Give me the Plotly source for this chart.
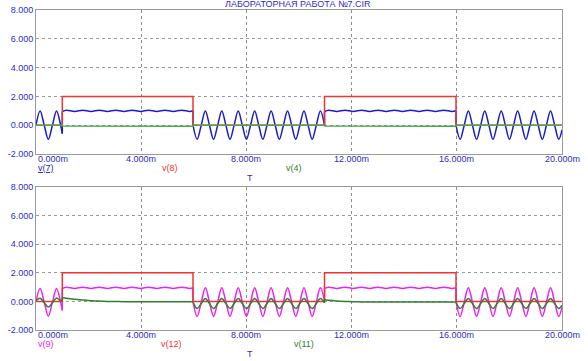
import plotly.graph_objects as go

# ---------------- data (time in ms, voltage in V) ----------------
# switching instants of the pulse sources
SW_T = [0.0, 1.0, 1.0, 5.97, 5.97, 10.97, 10.97, 15.97, 15.97, 20.0]
PULSE = [0.0, 0.0, 2.0, 2.0, 0.0, 0.0, 2.0, 2.0, 0.0, 0.0]

# sample times of the sinusoidal (low) segments
T_A = [0.000, 0.156, 0.313, 0.469, 0.625, 0.781, 0.938, 1.000]
T_C = [5.970, 6.126, 6.283, 6.439, 6.595, 6.751, 6.908, 7.064, 7.220, 7.376, 7.533,
       7.689, 7.845, 8.001, 8.158, 8.314, 8.470, 8.626, 8.783, 8.939, 9.095, 9.251,
       9.408, 9.564, 9.720, 9.876, 10.033, 10.189, 10.345, 10.501, 10.658, 10.814, 10.970]
T_E = [15.970, 16.126, 16.283, 16.439, 16.595, 16.751, 16.908, 17.064, 17.220, 17.376,
       17.533, 17.689, 17.845, 18.001, 18.158, 18.314, 18.470, 18.626, 18.783, 18.939,
       19.095, 19.251, 19.408, 19.564, 19.720, 19.876, 20.000]
# sample times of the (high) segments
T_B = [1.000, 1.156, 1.469, 1.781, 2.094, 2.406, 2.719, 3.031, 3.344, 3.656, 3.969,
       4.281, 4.594, 4.906, 5.219, 5.531, 5.844, 5.970]
T_D = [10.970, 11.126, 11.439, 11.751, 12.064, 12.376, 12.689, 13.001, 13.314, 13.626,
       13.939, 14.251, 14.564, 14.876, 15.189, 15.501, 15.814, 15.970]

# v(7) – top, blue
V7_A = [0.0, 0.98, 0.0, -0.98, 0.0, 0.98, 0.0, -0.58]
V7_B = [0.95, 1.04, 0.96, 1.04, 0.96, 1.04, 0.96, 1.04, 0.96, 1.04, 0.96, 1.04, 0.96,
        1.04, 0.96, 1.04, 0.96, 1.0]
V7_C = [0.0, -0.98, 0.0, 0.98, 0.0, -0.98, 0.0, 0.98, 0.0, -0.98, 0.0, 0.98, 0.0, -0.98,
        0.0, 0.98, 0.0, -0.98, 0.0, 0.98, 0.0, -0.98, 0.0, 0.98, 0.0, -0.98, 0.0, 0.98,
        0.0, -0.98, 0.0, 0.98, 0.0]
V7_D = [0.95, 1.04, 0.96, 1.04, 0.96, 1.04, 0.96, 1.04, 0.96, 1.04, 0.96, 1.04, 0.96,
        1.04, 0.96, 1.04, 0.96, 1.0]
V7_E = [0.0, -0.98, 0.0, 0.98, 0.0, -0.98, 0.0, 0.98, 0.0, -0.98, 0.0, 0.98, 0.0, -0.98,
        0.0, 0.98, 0.0, -0.98, 0.0, 0.98, 0.0, -0.98, 0.0, 0.98, 0.0, -0.98, -0.32]

# v(4) – top, green
V4 = [0.0, 0.0, -0.05, -0.07, 0.0, 0.0, -0.05, -0.07, 0.0, 0.0]

# v(9) – bottom, magenta
V9_A = [0.0, 0.9, -0.05, -1.03, -0.05, 0.9, -0.05, -0.63]
V9_B = [0.9, 0.99, 0.91, 0.99, 0.91, 0.99, 0.91, 0.99, 0.91, 0.99, 0.91, 0.99, 0.91,
        0.99, 0.91, 0.99, 0.91, 0.95]
V9_C = [0.0, -1.05, -0.05, 0.95, -0.05, -1.05, -0.05, 0.95, -0.05, -1.05, -0.05, 0.95,
        -0.05, -1.05, -0.05, 0.95, -0.05, -1.05, -0.05, 0.95, -0.05, -1.05, -0.05, 0.95,
        -0.05, -1.05, -0.05, 0.95, -0.05, -1.05, -0.05, 0.95, 0.05]
V9_D = [0.9, 0.99, 0.91, 0.99, 0.91, 0.99, 0.91, 0.99, 0.91, 0.99, 0.91, 0.99, 0.91,
        0.99, 0.91, 0.99, 0.91, 0.95]
V9_E = [0.0, -1.05, -0.05, 0.95, -0.05, -1.05, -0.05, 0.95, -0.05, -1.05, -0.05, 0.95,
        -0.05, -1.05, -0.05, 0.95, -0.05, -1.05, -0.05, 0.95, -0.05, -1.05, -0.05, 0.95,
        -0.05, -1.05, -0.4]

# v(11) – bottom, green
V11_A = [0.05, 0.22, -0.1, -0.4, -0.1, 0.24, 0.05, 0.15]
V11_B = [0.25, 0.22, 0.15, 0.09, 0.05, 0.02, 0.0, -0.01, -0.02, -0.02, -0.03, -0.03,
         -0.03, -0.03, -0.03, -0.03, -0.03, -0.03]
V11_C = [-0.05, -0.5, -0.15, 0.2, -0.15, -0.5, -0.15, 0.2, -0.15, -0.5, -0.15, 0.2,
         -0.15, -0.5, -0.15, 0.2, -0.15, -0.5, -0.15, 0.2, -0.15, -0.5, -0.15, 0.2,
         -0.15, -0.5, -0.15, 0.2, -0.15, -0.5, -0.15, 0.2, -0.1]
V11_D = [0.12, 0.08, 0.03, 0.0, -0.02, -0.04, -0.05, -0.05, -0.05, -0.05, -0.05, -0.05,
         -0.05, -0.05, -0.05, -0.05, -0.05, -0.05]
V11_E = [-0.05, -0.5, -0.15, 0.2, -0.15, -0.5, -0.15, 0.2, -0.15, -0.5, -0.15, 0.2,
         -0.15, -0.5, -0.15, 0.2, -0.15, -0.5, -0.15, 0.2, -0.15, -0.5, -0.15, 0.2,
         -0.15, -0.5, -0.26]

X_TICKS = [0, 4, 8, 12, 16, 20]
X_TICK_TEXT = ["0.000m", "4.000m", "8.000m", "12.000m", "16.000m", "20.000m"]
Y_TICKS = [-2, 0, 2, 4, 6, 8]
Y_TICK_TEXT = ["-2.000", "0.000", "2.000", "4.000", "6.000", "8.000"]

TITLE = "ЛАБОРАТОРНАЯ РАБОТА №7.CIR"

# ---------------- styling ----------------
FONT = "Arial, 'Liberation Sans', sans-serif"
LBL = "#2c2cc8"
BLUE = "#1c1cc8"
RED = "#f03434"
GREEN_T = "#48a848"
GREEN_B = "#2f7f2f"
MAGENTA = "#ee22ee"
LW = 1.5

fig = go.Figure()


def add_segments(segs, color, xa, ya):
    prev = None
    for t, v in segs:
        if prev is not None:
            fig.add_trace(go.Scatter(x=[prev[0], t[0]], y=[prev[1], v[0]], mode="lines",
                                     line=dict(color=color, width=LW), xaxis=xa, yaxis=ya,
                                     showlegend=False, hoverinfo="skip"))
        fig.add_trace(go.Scatter(x=t, y=v, mode="lines",
                                 line=dict(color=color, width=LW, shape="spline", smoothing=1.0),
                                 xaxis=xa, yaxis=ya, showlegend=False, hoverinfo="skip"))
        prev = (t[-1], v[-1])


def add_line(t, v, color, xa, ya):
    fig.add_trace(go.Scatter(x=t, y=v, mode="lines", line=dict(color=color, width=LW),
                             xaxis=xa, yaxis=ya, showlegend=False, hoverinfo="skip"))


# top panel
add_segments([(T_A, V7_A), (T_B, V7_B), (T_C, V7_C), (T_D, V7_D), (T_E, V7_E)], BLUE, "x", "y")
add_line(SW_T, PULSE, RED, "x", "y")
add_line(SW_T, V4, GREEN_T, "x", "y")

# bottom panel
add_segments([(T_A, V9_A), (T_B, V9_B), (T_C, V9_C), (T_D, V9_D), (T_E, V9_E)], MAGENTA, "x2", "y2")
add_line(SW_T, PULSE, RED, "x2", "y2")
add_segments([(T_A, V11_A), (T_B, V11_B), (T_C, V11_C), (T_D, V11_D), (T_E, V11_E)], GREEN_B, "x2", "y2")

xax = dict(range=[0, 20], tickvals=X_TICKS, showticklabels=False, showgrid=True,
           gridcolor="#8c8c8c", griddash="dot", gridwidth=1, zeroline=False,
           showline=True, mirror=True, linecolor="#9a9a9a", linewidth=1, ticks="",
           automargin=False)
yax = dict(range=[-2, 8], tickvals=Y_TICKS, ticktext=Y_TICK_TEXT, showgrid=True,
           gridcolor="#9a9a9a", griddash="3px,3px", gridwidth=1, zeroline=False,
           showline=True, mirror=True, linecolor="#9a9a9a", linewidth=1, ticks="",
           tickfont=dict(family=FONT, size=9, color=LBL), automargin=False)

fig.update_layout(
    width=588, height=361,
    margin=dict(l=36, r=26, t=10, b=31, autoexpand=False),
    paper_bgcolor="white", plot_bgcolor="white",
    showlegend=False,
    xaxis=dict(xax, domain=[0, 1], anchor="y"),
    yaxis=dict(yax, domain=[0.55, 1.0], anchor="x"),
    xaxis2=dict(xax, domain=[0, 1], anchor="y2"),
    yaxis2=dict(yax, domain=[0.0, 0.447], anchor="x2"),
)

ann = []
ann.append(dict(text=TITLE, xref="paper", yref="paper", x=0.499, y=1.019,
                xanchor="center", yanchor="middle", showarrow=False,
                font=dict(family=FONT, size=9, color=LBL)))

for xr, ytick, ylab, yT, labels in [
    ("x", 0.534, 0.506, 0.476,
     [("<span style='text-decoration:underline'>v(7)</span>", 0.0, "left", BLUE),
      ("v(8)", 5.1, "center", RED), ("v(4)", 9.8, "center", GREEN_B)]),
    ("x2", -0.016, -0.044, -0.075,
     [("v(9)", 0.0, "left", MAGENTA), ("v(12)", 5.15, "center", RED),
      ("v(11)", 10.2, "center", GREEN_B)]),
]:
    for i, (tv, tt) in enumerate(zip(X_TICKS, X_TICK_TEXT)):
        ann.append(dict(text=tt, xref=xr, yref="paper", x=tv, y=ytick,
                        xanchor="left" if i == 0 else "center", yanchor="middle",
                        showarrow=False, font=dict(family=FONT, size=9, color=LBL)))
    for txt, xv, anc, col in labels:
        ann.append(dict(text=txt, xref=xr, yref="paper", x=xv, y=ylab, xanchor=anc,
                        yanchor="middle", showarrow=False,
                        font=dict(family=FONT, size=9, color=col)))
    ann.append(dict(text="T", xref=xr, yref="paper", x=8.15, y=yT, xanchor="center",
                    yanchor="middle", showarrow=False, font=dict(family=FONT, size=9, color=LBL)))

fig.update_layout(annotations=ann)
fig.write_html("out.html", config={"displayModeBar": False},
               post_script="document.body.style.margin='0';")
